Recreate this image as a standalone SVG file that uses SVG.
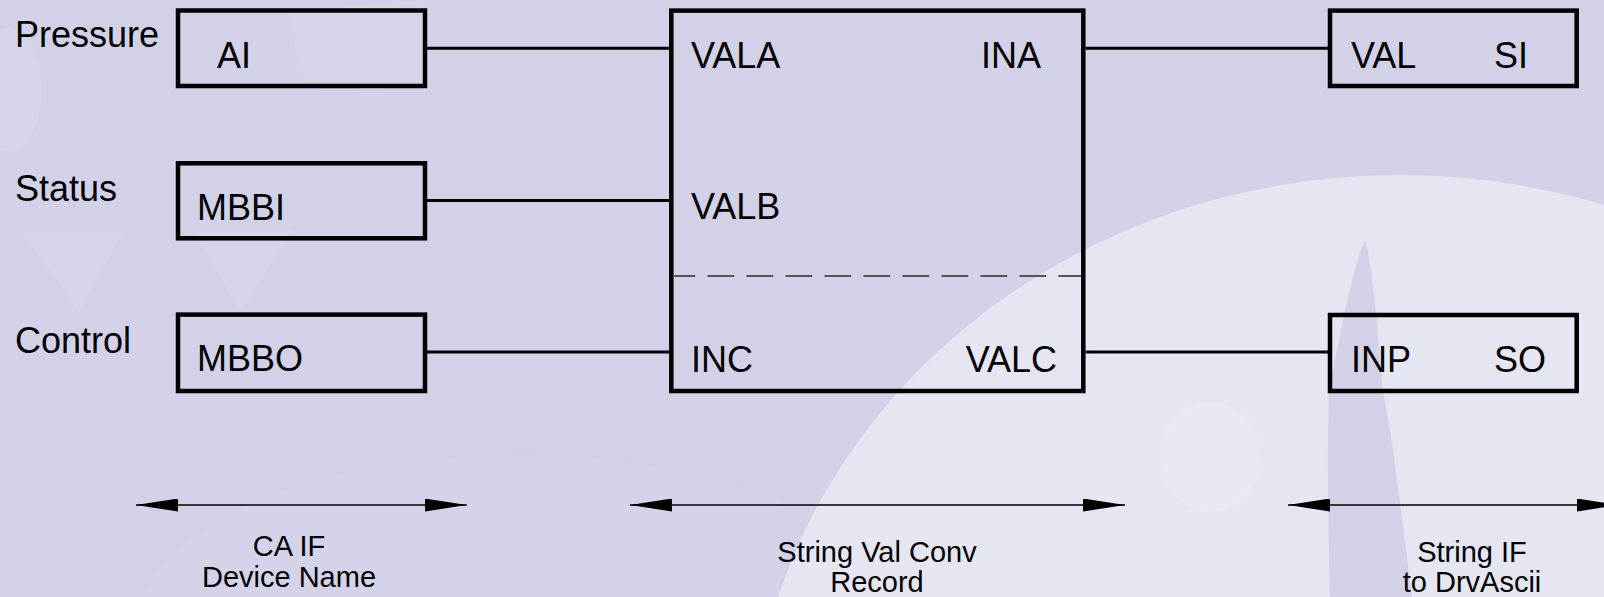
<svg xmlns="http://www.w3.org/2000/svg" width="1604" height="597" viewBox="0 0 1604 597">
  <defs>
    <style>
      .box { fill: none; stroke: #000; stroke-width: 4.5; }
      .wire { stroke: #000; stroke-width: 3; fill: none; }
      .dim { stroke: #000; stroke-width: 1.5; fill: none; marker-start: url(#head); marker-end: url(#head); }
      .lbl { font-family: "Liberation Sans", Arial, sans-serif; font-size: 36px; fill: #000; }
      .cap { font-family: "Liberation Sans", Arial, sans-serif; font-size: 29px; fill: #000; text-anchor: middle; }
      .sep { stroke: #555; stroke-width: 2; stroke-dasharray: 26.7 12.3; stroke-dashoffset: 5; }
    </style>
    <marker id="head" markerUnits="userSpaceOnUse" markerWidth="42" markerHeight="13" refX="42" refY="6.5" orient="auto-start-reverse" viewBox="0 0 42 13">
      <path d="M0,0 L42,6.5 L0,13 Z" fill="#000"/>
    </marker>
  </defs>

  <!-- backdrop -->
  <g id="backdrop">
    <rect x="0" y="0" width="1604" height="597" fill="#d2d1e8"/>
    <ellipse cx="8" cy="90" rx="34" ry="62" fill="#fff" opacity="0.1"/>
    <path d="M20,230 L123,230 L80,312 Z" fill="#fff" opacity="0.08"/>
    <path d="M193,230 L293,230 L240,312 Z" fill="#fff" opacity="0.08"/>
    <path d="M290,10 L430,0 L430,90 L300,88 Z" fill="#fff" opacity="0.08"/>
    <path d="M140,597 C200,500 330,460 520,455 C600,455 700,470 780,500 L780,597 Z" fill="#fff" opacity="0.06"/>
    <ellipse cx="1400" cy="770" rx="650" ry="595" fill="#e6e5f2"/>
    <ellipse cx="1210" cy="457" rx="50" ry="55" fill="#fff" opacity="0.12"/>
    <path d="M1365,240 C1355,260 1340,330 1329,393 C1327,450 1328,530 1330,597 L1412,597 C1400,500 1390,420 1383,393 C1378,330 1372,260 1365,240 Z" fill="#d2d1e8"/>
  </g>

  <!-- connectors -->
  <g id="connectors">
    <line class="wire" x1="427" y1="48.3" x2="669" y2="48.3"/>
    <line class="wire" x1="427" y1="200.5" x2="669" y2="200.5"/>
    <line class="wire" x1="427" y1="352" x2="669" y2="352"/>
    <line class="wire" x1="1085.5" y1="48.3" x2="1328" y2="48.3"/>
    <line class="wire" x1="1085.5" y1="352" x2="1328" y2="352"/>
  </g>

  <!-- input records -->
  <g id="ai">
    <text class="lbl" x="15" y="47">Pressure</text>
    <rect class="box" x="178" y="10.5" width="247" height="75.5"/>
    <text class="lbl" x="217" y="68">AI</text>
  </g>
  <g id="mbbi">
    <text class="lbl" x="15" y="201">Status</text>
    <rect class="box" x="178" y="163.3" width="247" height="75"/>
    <text class="lbl" x="197" y="220">MBBI</text>
  </g>
  <g id="mbbo">
    <text class="lbl" x="15" y="353">Control</text>
    <rect class="box" x="178" y="314.6" width="247" height="76.4"/>
    <text class="lbl" x="197" y="371">MBBO</text>
  </g>

  <!-- conversion record -->
  <g id="stringvalconv">
    <rect class="box" x="671.3" y="10.6" width="412" height="380.4"/>
    <line class="sep" x1="673.5" y1="276" x2="1081" y2="276"/>
    <text class="lbl" x="691" y="68">VALA</text>
    <text class="lbl" x="1041" y="68" text-anchor="end">INA</text>
    <text class="lbl" x="691" y="219">VALB</text>
    <text class="lbl" x="691" y="371.5">INC</text>
    <text class="lbl" x="1057" y="371.5" text-anchor="end">VALC</text>
  </g>

  <!-- string interface records -->
  <g id="si">
    <rect class="box" x="1330" y="10.6" width="246.7" height="75.4"/>
    <text class="lbl" x="1351" y="68">VAL</text>
    <text class="lbl" x="1494" y="68">SI</text>
  </g>
  <g id="so">
    <rect class="box" x="1330" y="315" width="246.7" height="76"/>
    <text class="lbl" x="1351" y="371.5">INP</text>
    <text class="lbl" x="1494" y="371.5">SO</text>
  </g>

  <!-- layer extents -->
  <g id="extents">
    <line class="dim" x1="136" y1="505" x2="466.7" y2="505"/>
    <text class="cap" x="289" y="556">CA IF</text>
    <text class="cap" x="289" y="587">Device Name</text>

    <line class="dim" x1="630" y1="505" x2="1125" y2="505"/>
    <text class="cap" x="877" y="562">String Val Conv</text>
    <text class="cap" x="877" y="592">Record</text>

    <line class="dim" x1="1288" y1="505" x2="1619" y2="505"/>
    <text class="cap" x="1472" y="562">String IF</text>
    <text class="cap" x="1472" y="592">to DrvAscii</text>
  </g>
</svg>
